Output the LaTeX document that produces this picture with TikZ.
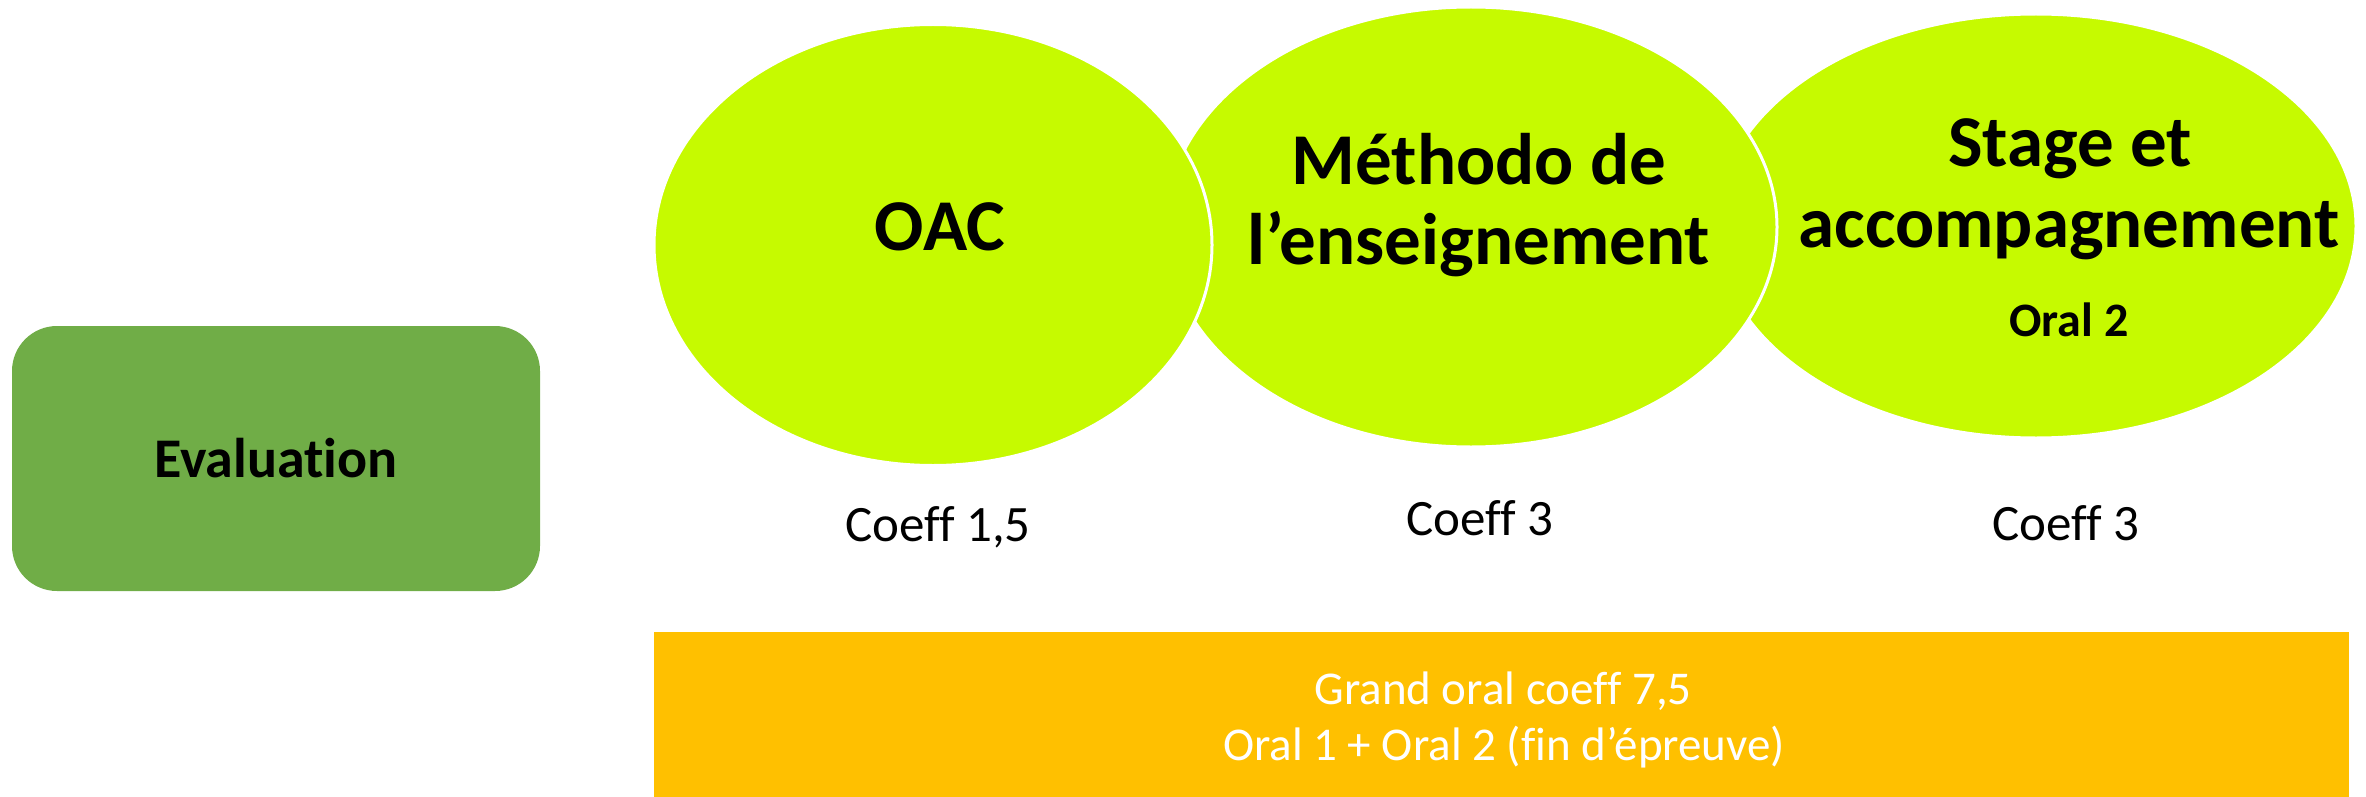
\documentclass[tikz,border=0pt]{standalone}
\usepackage{fontspec}
\setmainfont{Carlito}[Ligatures={NoCommon}]
\usetikzlibrary{shapes.geometric}
\definecolor{lime}{HTML}{C6FA00}
\definecolor{evalgreen}{HTML}{70AD47}
\definecolor{gold}{HTML}{FFC000}
\tikzset{
  blob/.style={ellipse, fill=lime, draw=white, line width=3pt, inner sep=0pt},
  title/.style={anchor=base, inner sep=0pt, font=\bfseries\fontsize{73}{80}\selectfont},
  sub/.style={anchor=base, inner sep=0pt, font=\bfseries\fontsize{48}{56}\selectfont},
  coeff/.style={anchor=base, inner sep=0pt, font=\fontsize{51}{60}\selectfont},
  band/.style={anchor=base, inner sep=0pt, text=white, font=\fontsize{47}{56}\selectfont},
}
\begin{document}
\begin{tikzpicture}[x=1pt,y=-1pt]
\useasboundingbox (0,0) rectangle (2366,797);
% evaluation box
\node[fill=evalgreen, rounded corners=45pt, minimum width=528pt, minimum height=265pt, inner sep=0pt,
      font=\bfseries\fontsize{56}{60}\selectfont] (eval) at (276,458.5) {Evaluation};
% ellipses (back to front)
\node[blob, minimum width=640pt, minimum height=424pt] (stage) at (2036,226) {};
\node[blob, minimum width=612pt, minimum height=440pt] (metho) at (1471,227) {};
\node[blob, minimum width=558pt, minimum height=441pt] (oac) at (933,245) {};
% titles
\node[title] (toac) at (940,250) {OAC};
\node[title] (tm1) at (1479,184) {Méthodo de};
\node[title] (tm2) at (1479,264) {l’enseignement};
\node[title] (ts1) at (2070,167) {Stage et};
\node[title] (ts2) at (2069,247) {accompagnement};
\node[sub] (toral) at (2069,336) {Oral 2};
% coefficients
\node[coeff] (c1) at (938,541) {Coeff 1,5};
\node[coeff] (c2) at (1480,535) {Coeff 3};
\node[coeff] (c3) at (2066,540) {Coeff 3};
% band
\node[fill=gold, minimum width=1695pt, minimum height=165pt, inner sep=0pt] (bandbox) at (1501.5,714.5) {};
\node[band] (g1) at (1503,704) {Grand oral coeff 7,5};
\node[band] (g2) at (1504,760) {Oral 1 + Oral 2 (fin d’épreuve)};
\end{tikzpicture}
\end{document}
